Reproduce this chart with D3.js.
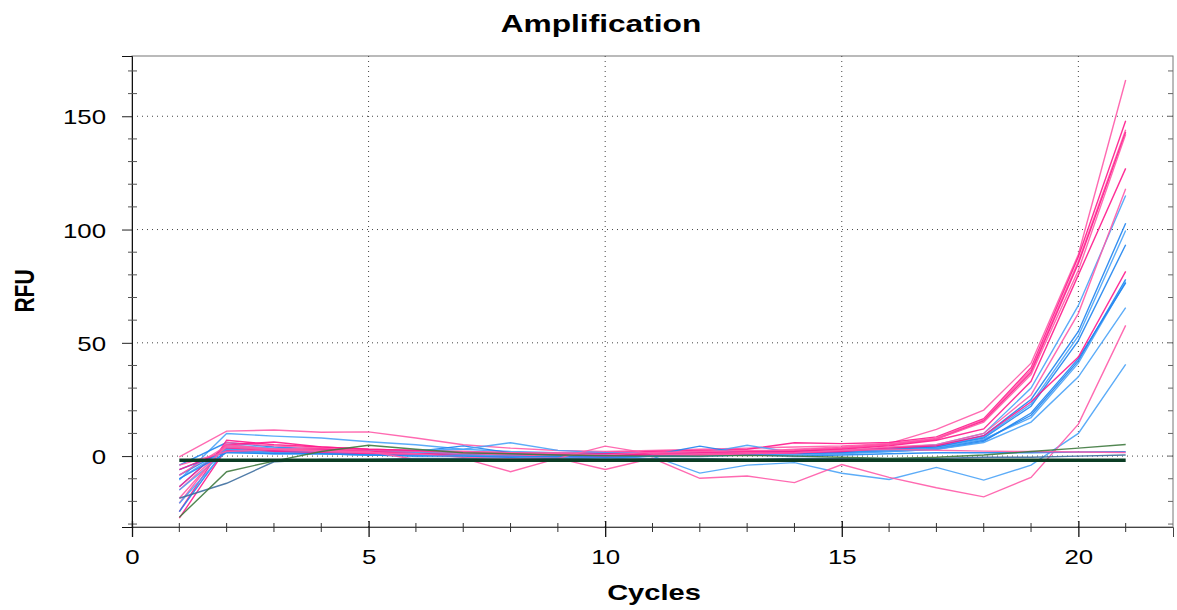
<!DOCTYPE html>
<html>
<head>
<meta charset="utf-8">
<script src="https://cdn.jsdelivr.net/npm/d3@7"></script>
<style>
  html, body { margin: 0; padding: 0; background: #fff; }
  svg { display: block; font-family: "Liberation Sans", Arial, sans-serif; }
</style>
</head>
<body>
<div id="chart"></div>
<script>
/* qPCR amplification plot: RFU per cycle for every well */

const cycles = d3.range(1, 22);
const yMajorTicks = [0, 50, 100, 150];
const xMajorTicks = [0, 5, 10, 15, 20];

// amplifying wells, pink dye
const pinkA = [-0.3, 11, 11.5, 10.5, 10.7, 8, 5, 3.5, 2.5, 2, 2.5, 3, 3.5, 4, 4.5, 5.5, 11.8, 20.3, 41, 89, 166];
const pinkB = [-24.5, 7, 5, 4, 3, 2.5, 2, 1.5, 1, 1.5, 2, 2.5, 3, 5.9, 5.5, 6, 8.5, 16.5, 39, 88, 148];
const pinkC = [-20.8, 6, 4.5, 3.5, 2.5, 2, 1.5, 1, 1.5, 1, 1.5, 2, 2, 3, 4, 5.5, 8, 16, 38, 86, 144];
const pinkD = [-13.5, 5, 6.2, 4, 3, 2.5, 1, 1, 0.5, 1, 1, 1.5, 2, 2.5, 3.5, 5, 7.5, 15.5, 37, 85, 143];
const pinkE = [-8.4, 4.5, 3, 3.5, 2, 1.5, 2, 1.5, 1, 0.5, 1.5, 2, 2.5, 2.5, 3.5, 5, 7.5, 15, 36, 82, 142];
const pinkF = [-27.4, 3.5, 2.5, 3, 2, 1, 0.5, 0, 0.5, 0, 1, 1, 1.5, 2, 3, 4.5, 7, 12, 33, 80, 127];
const pinkG = [-15, 4, 3, 2.5, 1.5, 0.5, 1, 0.5, 0, -0.5, 0.5, 1, 1.5, 1.5, 2.5, 4, 5, 10, 27, 63, 118];
const pinkH = [-6, 2.5, 2, 1.5, 1, 1, 0.5, 0, -0.5, 0, 0.5, 0.5, 1, 1.5, 2, 3.5, 4.5, 9, 24, 43.7, 81.5];
const pinkLate = [-18.6, 5, 3, 2, 1.5, 1, -0.5, -1, -1, -5.9, -1, -9.8, -8.8, -11.7, -3.7, -9.4, -14, -18, -9.4, 14.1, 57.7];
const pinkFlat = [-4, 2, 3, 2.5, 2, -1.5, -1, -6.9, -1, 4.4, 1, 0.5, 1, 1.5, 2.5, 3, 2.6, 2.2, 2, 1.8, 1.6];

// amplifying wells, blue dye
const blueA = [-10.6, 10, 8.8, 8, 6.3, 5, 3, 2, 1.5, 1, 1, 1.5, 2, 2, 2.5, 3.5, 5, 10, 30, 66.5, 115];
const blueB = [-4, 6, 4, 3, 2.5, 2, 4.5, 1.5, 1, 1.5, 1, 2, 1.5, 2, 2.5, 3, 4.5, 9, 25, 55, 102.8];
const blueC = [-13.5, 5, 3.5, 3, 2, 2.5, 3, 5.9, 2.5, 1.5, 1.5, 1, 4.8, 1.5, 2, 3, 4, 8.5, 23, 53, 99.6];
const blueD = [-24.5, 4, 3, 2.5, 2, 1.5, 1, 1, 0.5, 1, 0.5, 4.4, 1, 1.5, 2, 3, 4, 8, 22, 51, 93.3];
const blueE = [-8.4, 3, 2, 2, 1.5, 1, 0.5, 0.5, 0, 0.5, 0.5, 1, 1, 1.5, 1.5, 2.5, 3.5, 7, 18, 42, 78];
const blueF = [-20.8, 2.5, 2.5, 1.5, 1, 1.5, 1, 0, 0.5, 0, 0.5, 0.5, 1, 1, 1.5, 2.5, 3.5, 7.5, 17, 41, 77];
const blueG = [-6, 2, 1.5, 1.5, 1, 0.5, 0.5, 0, -0.5, -0.5, 0, 0.5, 0.5, 1, 1.5, 2, 3, 6.5, 19, 43, 76.5];
const blueH = [-15, 2, 1, 1, 0.5, 0.5, 0, -0.5, 0, -1, 0, 0, 0.5, 0.5, 1, 2, 3, 6, 15, 35, 65.5];
const blueLate = [-10, 3, 1.5, 1, 0.5, 0, 0.5, 0, -0.5, -1.5, 0, -7.5, -4, -2.9, -7.6, -10.3, -5, -10.6, -4, 10, 40.5];
const blueFlat = [-10, 1.5, 1, 1, 0.5, 0, 0, -0.5, 0, -0.5, 0, 0, 0.5, 0, 0.5, 1, 1.5, 1.5, 1.5, 1.8, 1.9];

// other wells
const greenWell = [-27, -6.9, -2.2, 2, 4.8, 3, 1.5, 1, 0.5, 0.2, 0, 0, 0.3, 0, -0.5, -1, -0.5, 0.5, 2, 3.5, 5.1];
const steelWell = [-18.6, -12, -2.5, -1.5, -1.5, -1, -1, -1.5, -1, -1.5, -1, -1, -1.5, -1, -1, -1, -1, -0.5, -0.5, 0, 0.5];
const ntcWells = [-1.8, -1.8, -1.8, -1.8, -1.8, -1.8, -1.8, -1.8, -1.8, -1.8, -1.8, -1.8, -1.8, -1.8, -1.8, -1.8, -1.8, -1.8, -1.8, -1.8, -1.8];

const PINK = "#ff1a8c", PINK2 = "#ff5aa8";
const BLUE = "#1f84f0", BLUE2 = "#4aa3f7";

const series = [
  { v: blueA, c: BLUE2 }, { v: pinkA, c: PINK2 },
  { v: blueB, c: BLUE }, { v: pinkB, c: PINK },
  { v: blueC, c: BLUE2 }, { v: pinkC, c: PINK2 },
  { v: blueD, c: BLUE }, { v: pinkD, c: PINK },
  { v: blueE, c: BLUE }, { v: pinkE, c: PINK2 },
  { v: blueF, c: BLUE2 }, { v: pinkF, c: PINK },
  { v: blueG, c: BLUE }, { v: pinkG, c: PINK2 },
  { v: blueH, c: BLUE2 }, { v: pinkH, c: PINK },
  { v: blueLate, c: BLUE2 }, { v: pinkLate, c: PINK2 },
  { v: blueFlat, c: BLUE }, { v: pinkFlat, c: PINK2 },
  { v: steelWell, c: "#3d6e9e" }, { v: greenWell, c: "#3f7a3f" }
];

const W = 1177, H = 610;
const plotL = 132, plotR = 1173, plotT = 56, plotB = 527;
const STRETCH = 1.23;   // the source image is stretched sideways

const svg = d3.select("#chart").append("svg")
  .attr("width", W).attr("height", H);

const x = d3.scaleLinear().domain([0, 22]).range([plotL, plotR]);
const y = d3.scaleLinear().domain([-31.3, 176.6]).range([plotB, plotT]);

/* frame */
svg.append("rect")
  .attr("x", plotL).attr("y", plotT)
  .attr("width", plotR - plotL).attr("height", plotB - plotT)
  .attr("fill", "none").attr("stroke", "#777").attr("stroke-width", 1);

/* dotted grid */
svg.append("g").selectAll("line")
  .data(yMajorTicks)
  .join("line")
    .attr("x1", plotL).attr("x2", plotR)
    .attr("y1", d => y(d)).attr("y2", d => y(d))
    .attr("stroke", "#444").attr("stroke-dasharray", "1,4");

svg.append("g").selectAll("line")
  .data(xMajorTicks.filter(d => d > 0))
  .join("line")
    .attr("x1", d => x(d)).attr("x2", d => x(d))
    .attr("y1", plotT).attr("y2", plotB)
    .attr("stroke", "#444").attr("stroke-dasharray", "1,4");

/* curves */
const line = d3.line()
  .x((d, i) => x(cycles[i]))
  .y(d => y(d));

svg.append("g").selectAll("path")
  .data(series)
  .join("path")
    .attr("d", d => line(d.v))
    .attr("fill", "none")
    .attr("stroke", d => d.c)
    .attr("stroke-width", 1.4)
    .attr("opacity", 0.9);

svg.append("path")
  .attr("d", line(ntcWells))
  .attr("fill", "none")
  .attr("stroke", "#0b3d24")
  .attr("stroke-width", 3.5);

/* axes */
const tickFont = g => g.selectAll("text")
  .attr("fill", "#000")
  .style("font-size", "21px")
  .style("font-family", "'Liberation Sans', Arial, sans-serif");

const yAxis = svg.append("g")
  .attr("transform", `translate(${plotL},0)`)
  .call(d3.axisLeft(y).tickValues(yMajorTicks).tickSize(10).tickPadding(16))
  .call(tickFont)
  .call(g => g.selectAll("line").attr("stroke", "#222"))
  .call(g => g.select(".domain").attr("stroke", "#111"));
yAxis.selectAll("text").attr("dy", "0.36em");

// minor ticks every 10 RFU, crossing the left edge and inside the right edge
const yMinor = d3.range(-30, 177, 10).filter(d => d % 50 !== 0);
svg.append("g").selectAll("line")
  .data(yMinor)
  .join("line")
    .attr("x1", plotL - 4).attr("x2", plotL + 5)
    .attr("y1", d => y(d)).attr("y2", d => y(d))
    .attr("stroke", "#555");
svg.append("g").selectAll("line")
  .data(d3.range(-30, 177, 10))
  .join("line")
    .attr("x1", plotR - 5).attr("x2", plotR)
    .attr("y1", d => y(d)).attr("y2", d => y(d))
    .attr("stroke", "#666");

svg.append("g")
  .attr("transform", `translate(0,${plotB})`)
  .call(d3.axisBottom(x).tickValues(xMajorTicks).tickSize(10).tickPadding(12))
  .call(tickFont)
  .call(g => g.selectAll("line").attr("stroke", "#111").attr("y1", -6).attr("stroke-width", 1.3))
  .call(g => g.select(".domain").attr("stroke", "#444"));

svg.append("g").selectAll("line")
  .data(d3.range(1, 22).filter(d => d % 5 !== 0))
  .join("line")
    .attr("x1", d => x(d)).attr("x2", d => x(d))
    .attr("y1", plotB - 4).attr("y2", plotB + 5)
    .attr("stroke", "#333");

/* titles */
svg.append("text")
  .attr("class", "stretch-title")
  .attr("x", 601).attr("y", 32)
  .attr("text-anchor", "middle")
  .style("font-size", "24px").style("font-weight", "bold")
  .text("Amplification");

svg.append("text")
  .attr("class", "stretch-title")
  .attr("x", 654).attr("y", 600)
  .attr("text-anchor", "middle")
  .style("font-size", "22px").style("font-weight", "bold")
  .text("Cycles");

svg.append("text")
  .attr("transform", `translate(34,291) rotate(-90) scale(1,1.3)`)
  .attr("text-anchor", "middle")
  .style("font-size", "21px").style("font-weight", "bold")
  .text("RFU");

/* widen horizontal texts to the source's aspect */
function widen(sel, k) {
  sel.each(function () {
    const len = this.getComputedTextLength();
    d3.select(this)
      .attr("textLength", len * k)
      .attr("lengthAdjust", "spacingAndGlyphs");
  });
}
widen(svg.selectAll(".tick text"), STRETCH);
widen(svg.selectAll(".stretch-title"), 1.32);
</script>
</body>
</html>
